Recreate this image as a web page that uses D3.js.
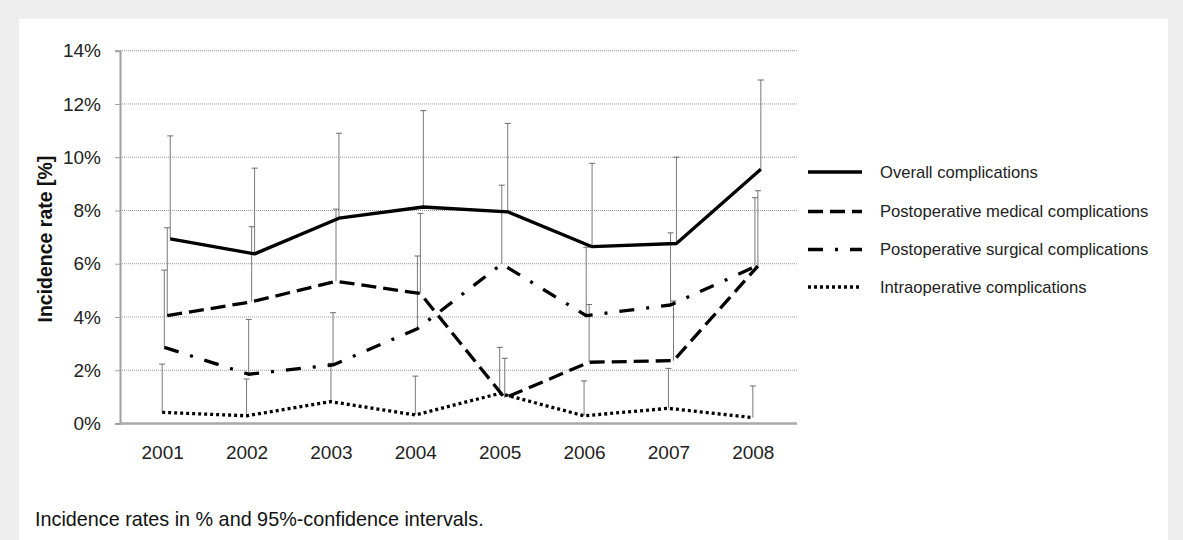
<!DOCTYPE html>
<html>
<head>
<meta charset="utf-8">
<script src="https://cdn.jsdelivr.net/npm/d3@7/dist/d3.min.js"></script>
<style>
  html, body { margin: 0; padding: 0; background: #eeeeee; }
  svg { display: block; font-family: "Liberation Sans", Arial, sans-serif; }
</style>
</head>
<body>
<svg id="chart" width="1183" height="540"></svg>
<script>
// Incidence rates (%) per year with upper 95% confidence limits
const years = [2001, 2002, 2003, 2004, 2005, 2006, 2007, 2008];

const overall      = [6.93, 6.37, 7.71, 8.13, 7.95, 6.64, 6.76, 9.55];
const overallUpper = [10.8, 9.59, 10.9, 11.75, 11.27, 9.77, 10.0, 12.9];

const medical      = [4.05, 4.57, 5.34, 4.88, 0.96, 2.30, 2.36, 5.91];
const medicalUpper = [7.35, 7.39, 8.05, 7.89, 2.45, 4.47, 4.60, 8.74];

const surgical      = [2.86, 1.85, 2.20, 3.56, 5.99, 4.05, 4.45, 5.89];
const surgicalUpper = [5.76, 3.91, 4.16, 6.29, 8.95, 6.62, 7.16, 8.48];

const intra      = [0.42, 0.29, 0.82, 0.32, 1.13, 0.29, 0.57, 0.22];
const intraUpper = [2.23, 1.67, 2.26, 1.78, 2.86, 1.60, 2.07, 1.41];

const seriesNames = [
  "Overall complications",
  "Postoperative medical complications",
  "Postoperative surgical complications",
  "Intraoperative complications"
];

const yTicks = [0, 2, 4, 6, 8, 10, 12, 14];

// line style and small horizontal dodge (in years) so the error bars don't overlap
const styles = [
  { dash: null,          dodge: 0.095 },
  { dash: "15,7",        dodge: 0.06 },
  { dash: "15,12,3,12",  dodge: 0.025 },
  { dash: "3,3",         dodge: 0.0 }
];

const seriesValues = [overall, medical, surgical, intra];
const seriesUpper  = [overallUpper, medicalUpper, surgicalUpper, intraUpper];

const svg = d3.select("#chart");

// white panel
svg.append("rect").attr("x", 19).attr("y", 19).attr("width", 1149).attr("height", 540)
  .attr("fill", "#ffffff");

const plotLeft = 120, plotRight = 795, plotTop = 50.7, plotBottom = 423.5;
const gridEnd = 797;

const x = d3.scaleLinear().domain([2000.5, 2008.5]).range([plotLeft, plotRight]);
const y = d3.scaleLinear().domain([0, 14]).range([plotBottom, plotTop]);

// horizontal gridlines
svg.append("g").selectAll("line")
  .data(yTicks.filter(d => d > 0))
  .join("line")
  .attr("x1", plotLeft).attr("x2", gridEnd)
  .attr("y1", d => y(d)).attr("y2", d => y(d))
  .attr("stroke", "#9a9a9a").attr("stroke-width", 1)
  .attr("stroke-dasharray", "1,1");

// y axis
const yAxis = d3.axisLeft(y).tickValues(yTicks).tickFormat(d => d + "%").tickSize(5).tickPadding(14);
const gy = svg.append("g").attr("transform", `translate(${plotLeft},0)`).call(yAxis);
gy.select(".domain").attr("stroke", "#a0a0a0").attr("stroke-width", 2);
gy.selectAll(".tick line").attr("stroke", "#a0a0a0");
gy.selectAll(".tick text").attr("font-size", 19).attr("fill", "#222")
  .attr("font-family", "Liberation Sans, Arial, sans-serif");

// x axis
const xAxis = d3.axisBottom(x).tickValues(years).tickFormat(d3.format("d")).tickSize(0).tickPadding(22);
const gx = svg.append("g").attr("transform", `translate(0,${plotBottom})`).call(xAxis);
gx.select(".domain").attr("d", `M${plotLeft},0H${gridEnd}`).attr("stroke", "#a8a8a8").attr("stroke-width", 2.5);
gx.selectAll(".tick text").attr("font-size", 19).attr("fill", "#222")
  .attr("font-family", "Liberation Sans, Arial, sans-serif");

// y axis title
svg.append("text")
  .attr("transform", `translate(52,${(plotTop + plotBottom) / 2 + 2}) rotate(-90)`)
  .attr("text-anchor", "middle")
  .attr("font-size", 19.5).attr("font-weight", "bold").attr("fill", "#111")
  .text("Incidence rate [%]");

// error bars (upper limit only)
seriesValues.forEach((vals, s) => {
  const g = svg.append("g");
  const ups = seriesUpper[s];
  const px = i => x(years[i] + styles[s].dodge);
  years.forEach((yr, i) => {
    g.append("line")
      .attr("x1", px(i)).attr("x2", px(i))
      .attr("y1", y(vals[i])).attr("y2", y(ups[i]))
      .attr("stroke", "#7a7a7a").attr("stroke-width", 1);
    g.append("line")
      .attr("x1", px(i) - 3).attr("x2", px(i) + 3)
      .attr("y1", y(ups[i])).attr("y2", y(ups[i]))
      .attr("stroke", "#6a6a6a").attr("stroke-width", 1);
  });
});

// series lines
seriesValues.forEach((vals, s) => {
  const line = d3.line()
    .x((d, i) => x(years[i] + styles[s].dodge))
    .y(d => y(d));
  const p = svg.append("path")
    .attr("d", line(vals))
    .attr("fill", "none")
    .attr("stroke", "#000")
    .attr("stroke-width", 3.3)
    .attr("stroke-linejoin", "round");
  if (styles[s].dash) p.attr("stroke-dasharray", styles[s].dash);
});

// legend
const legendY = [172, 211.5, 249.5, 287];
const lg = svg.append("g");
seriesNames.forEach((name, s) => {
  const l = lg.append("line")
    .attr("x1", 808).attr("x2", 862)
    .attr("y1", legendY[s]).attr("y2", legendY[s])
    .attr("stroke", "#000").attr("stroke-width", 3.3);
  if (styles[s].dash) l.attr("stroke-dasharray", styles[s].dash);
  lg.append("text")
    .attr("x", 880).attr("y", legendY[s])
    .attr("dy", "0.35em")
    .attr("font-size", 16.6).attr("fill", "#222")
    .text(name);
});

// caption
svg.append("text")
  .attr("x", 35).attr("y", 526)
  .attr("font-size", 19.8).attr("fill", "#111")
  .text("Incidence rates in % and 95%-confidence intervals.");
</script>
</body>
</html>
